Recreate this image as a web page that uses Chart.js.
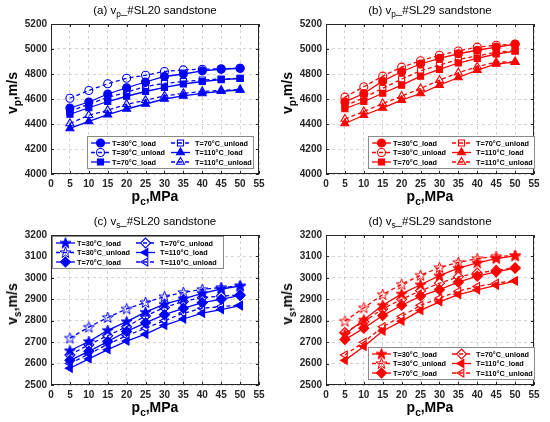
<!DOCTYPE html>
<html>
<head>
<meta charset="utf-8">
<script src="https://cdn.jsdelivr.net/npm/chart.js@4.4.1/dist/chart.umd.min.js"></script>
<style>
  body { margin: 0; background: #fff; width: 550px; height: 422px; overflow: hidden; font-family: 'Liberation Sans', Arial, sans-serif; color: #000; }
  .panel { position: absolute; width: 275px; height: 211px; }
  .panel canvas { position: absolute; left: 0; top: 0; }
  .title { position: absolute; left: 51px; width: 208px; top: 3px; text-align: center; font-size: 11.5px; line-height: 14px; white-space: nowrap; }
  .xlab { position: absolute; left: 51px; width: 208px; top: 188px; text-align: center; font-size: 14px; font-weight: bold; line-height: 16px; white-space: nowrap; }
  .ylab { position: absolute; left: 12px; top: 93px; transform: translate(-50%, -50%) rotate(-90deg); font-size: 14px; font-weight: bold; line-height: 16px; white-space: nowrap; }
  sub { font-size: 0.72em; vertical-align: -0.35em; line-height: 0; }
</style>
</head>
<body>
<div class="panel" style="left:0;top:0">
  <canvas id="chartA" width="275" height="211"></canvas>
  <div class="title">(a) v<sub>p</sub>_#SL20 sandstone</div>
  <div class="ylab">v<sub>p</sub>,m/s</div>
  <div class="xlab">p<sub>c</sub>,MPa</div>
</div>
<div class="panel" style="left:275px;top:0">
  <canvas id="chartB" width="275" height="211"></canvas>
  <div class="title">(b) v<sub>p</sub>_#SL29 sandstone</div>
  <div class="ylab">v<sub>p</sub>,m/s</div>
  <div class="xlab">p<sub>c</sub>,MPa</div>
</div>
<div class="panel" style="left:0;top:211px">
  <canvas id="chartC" width="275" height="211"></canvas>
  <div class="title">(c) v<sub>s</sub>_#SL20 sandstone</div>
  <div class="ylab">v<sub>s</sub>,m/s</div>
  <div class="xlab">p<sub>c</sub>,MPa</div>
</div>
<div class="panel" style="left:275px;top:211px">
  <canvas id="chartD" width="275" height="211"></canvas>
  <div class="title">(d) v<sub>s</sub>_#SL29 sandstone</div>
  <div class="ylab">v<sub>s</sub>,m/s</div>
  <div class="xlab">p<sub>c</sub>,MPa</div>
</div>
<script>
// confining pressure, MPa
const pressure = [5, 10, 15, 20, 25, 30, 35, 40, 45, 50];
const seriesLabels = ['T=30°C_load', 'T=30°C_unload', 'T=70°C_load', 'T=70°C_unload', 'T=110°C_load', 'T=110°C_unload'];

// (a) vp, #SL20
const vpSL20_30load    = [4528, 4576, 4640, 4690, 4736, 4780, 4800, 4825, 4838, 4846];
const vpSL20_30unload  = [4606, 4668, 4722, 4766, 4790, 4820, 4833, 4838, 4842, 4846];
const vpSL20_70load    = [4478, 4530, 4580, 4622, 4660, 4693, 4720, 4740, 4755, 4764];
const vpSL20_70unload  = [4500, 4560, 4612, 4655, 4700, 4725, 4740, 4752, 4760, 4765];
const vpSL20_110load   = [4365, 4421, 4475, 4520, 4560, 4600, 4625, 4645, 4662, 4672];
const vpSL20_110unload = [4405, 4470, 4510, 4558, 4590, 4625, 4645, 4660, 4670, 4675];

// (b) vp, #SL29
const vpSL29_30load    = [4577, 4644, 4743, 4818, 4880, 4925, 4962, 4990, 5015, 5038];
const vpSL29_30unload  = [4615, 4698, 4783, 4855, 4906, 4950, 4984, 5015, 5030, 5040];
const vpSL29_70load    = [4522, 4580, 4646, 4711, 4783, 4837, 4888, 4925, 4960, 4983];
const vpSL29_70unload  = [4545, 4610, 4686, 4759, 4826, 4871, 4917, 4944, 4975, 4986];
const vpSL29_110load   = [4404, 4470, 4529, 4591, 4644, 4711, 4772, 4831, 4880, 4895];
const vpSL29_110unload = [4440, 4500, 4564, 4623, 4684, 4751, 4810, 4858, 4895, 4898];

// (c) vs, #SL20
const vsSL20_30load    = [2660, 2703, 2755, 2796, 2840, 2877, 2902, 2928, 2948, 2962];
const vsSL20_30unload  = [2719, 2770, 2815, 2855, 2885, 2912, 2932, 2946, 2955, 2962];
const vsSL20_70load    = [2615, 2657, 2703, 2750, 2790, 2828, 2858, 2884, 2900, 2918];
const vsSL20_70unload  = [2640, 2688, 2730, 2772, 2822, 2862, 2890, 2908, 2915, 2920];
const vsSL20_110load   = [2578, 2622, 2665, 2705, 2737, 2778, 2808, 2835, 2852, 2870];
const vsSL20_110unload = [2600, 2645, 2690, 2730, 2765, 2800, 2835, 2858, 2866, 2872];

// (d) vs, #SL29
const vsSL29_30load    = [2737, 2804, 2872, 2925, 2968, 3010, 3045, 3070, 3090, 3103];
const vsSL29_30unload  = [2798, 2860, 2922, 2970, 3012, 3048, 3072, 3090, 3100, 3104];
const vsSL29_70load    = [2712, 2765, 2824, 2872, 2915, 2945, 2980, 3008, 3028, 3045];
const vsSL29_70unload  = [2745, 2795, 2855, 2900, 2940, 2975, 3005, 3022, 3035, 3047];
const vsSL29_110load   = [2615, 2680, 2752, 2798, 2848, 2888, 2922, 2944, 2965, 2985];
const vsSL29_110unload = [2640, 2700, 2772, 2820, 2872, 2905, 2938, 2960, 2975, 2987];

// axis ranges
const xMin = 0, xMax = 55, xStep = 5;
const vpMin = 4000, vpMax = 5200, vpStep = 200;
const vsMin = 2500, vsMax = 3200, vsStep = 100;

const FONT = "'Liberation Sans', Arial, sans-serif";
const AXIS_COLOR = '#262626';

// five point star marker, since chart.js 'star' is an asterisk
function starMarker(color, filled) {
    const c = document.createElement('canvas');
    c.width = 13; c.height = 13;
    const g = c.getContext('2d');
    g.beginPath();
    for (let i = 0; i < 10; i++) {
        const r = i % 2 ? 2.3 : 5.8;
        const a = -Math.PI / 2 + i * Math.PI / 5;
        g.lineTo(6.5 + r * Math.cos(a), 6.8 + r * Math.sin(a));
    }
    g.closePath();
    g.lineWidth = 1;
    if (filled) { g.fillStyle = color; g.fill(); }
    g.strokeStyle = color;
    g.stroke();
    return c;
}

function marks(kind, color) {
    if (kind === 'vp') {
        return [
            { style: 'circle', r: 4, rot: 0, filled: true },
            { style: 'circle', r: 4, rot: 0, filled: false },
            { style: 'rect', r: 4.3, rot: 0, filled: true },
            { style: 'rect', r: 4.3, rot: 0, filled: false },
            { style: 'triangle', r: 4.6, rot: 0, filled: true },
            { style: 'triangle', r: 4.6, rot: 0, filled: false }
        ];
    }
    return [
        { style: starMarker(color, true), r: 5, rot: 0, filled: true },
        { style: starMarker(color, false), r: 5, rot: 0, filled: false },
        { style: 'rectRot', r: 5, rot: 0, filled: true },
        { style: 'rectRot', r: 5, rot: 0, filled: false },
        { style: 'triangle', r: 4.6, rot: -90, filled: true },
        { style: 'triangle', r: 4.6, rot: -90, filled: false }
    ];
}

// box, inward ticks and an in-axes legend like the matlab figure
const framePlugin = {
    id: 'frame',
    beforeDatasetsDraw(chart) {
        const { ctx, chartArea: a, scales } = chart;
        ctx.save();
        ctx.strokeStyle = AXIS_COLOR;
        ctx.lineWidth = 1;
        ctx.beginPath();
        scales.x.ticks.forEach(t => {
            const px = Math.round(scales.x.getPixelForValue(t.value)) + 0.5;
            ctx.moveTo(px, a.bottom); ctx.lineTo(px, a.bottom - 3);
            ctx.moveTo(px, a.top); ctx.lineTo(px, a.top + 3);
        });
        scales.y.ticks.forEach(t => {
            const py = Math.round(scales.y.getPixelForValue(t.value)) + 0.5;
            ctx.moveTo(a.left, py); ctx.lineTo(a.left + 3, py);
            ctx.moveTo(a.right, py); ctx.lineTo(a.right - 3, py);
        });
        ctx.stroke();
        ctx.strokeRect(Math.round(a.left) + 0.5, Math.round(a.top) + 0.5, Math.round(a.width) - 1, Math.round(a.height) - 1);
        ctx.restore();
    },
    afterDatasetsDraw(chart, args, opts) {
        const { ctx } = chart;
        const b = opts.box;
        if (!b) return;
        ctx.save();
        ctx.fillStyle = '#fff';
        ctx.fillRect(b.x, b.y, b.w, b.h);
        ctx.strokeStyle = '#8a8a8a';
        ctx.lineWidth = 1;
        ctx.strokeRect(b.x + 0.5, b.y + 0.5, b.w, b.h);
        chart.data.datasets.forEach((ds, i) => {
            const col = Math.floor(i / 3), row = i % 3;
            const lx = b.x + (col ? 84 : 4);
            const cy = b.y + 7 + row * 9.5;
            ctx.strokeStyle = ds.borderColor;
            ctx.lineWidth = ds.borderWidth;
            ctx.setLineDash(ds.borderDash || []);
            ctx.beginPath();
            ctx.moveTo(lx, cy); ctx.lineTo(lx + 19, cy);
            ctx.stroke();
            ctx.setLineDash([]);
            ctx.fillStyle = ds.pointBackgroundColor;
            ctx.lineWidth = ds.pointBorderWidth;
            Chart.helpers.drawPoint(ctx, {
                pointStyle: ds.pointStyle, radius: ds.pointRadius,
                rotation: ds.pointRotation, borderWidth: ds.pointBorderWidth
            }, lx + 9.5, cy);
            ctx.fillStyle = '#000';
            ctx.font = 'bold 7.3px ' + FONT;
            ctx.textBaseline = 'middle';
            ctx.fillText(ds.label, b.x + (col ? 108 : 25), cy + 0.5);
        });
        ctx.restore();
    }
};

function makeChart(id, values, kind, color, yMin, yMax, yStep, box) {
    const mk = marks(kind, color);
    const datasets = values.map((vals, i) => ({
        label: seriesLabels[i],
        data: pressure.map((p, j) => ({ x: p, y: vals[j] })),
        borderColor: color,
        borderWidth: 1.3,
        borderDash: i % 2 ? [4, 3] : [],
        pointStyle: mk[i].style,
        pointRadius: mk[i].r,
        pointRotation: mk[i].rot,
        pointBorderColor: color,
        pointBorderWidth: 1.1,
        pointBackgroundColor: mk[i].filled ? color : 'rgba(0,0,0,0)',
        tension: 0,
        order: 5 - i
    }));
    const tickFont = { family: FONT, size: 10, weight: 'bold' };
    new Chart(document.getElementById(id).getContext('2d'), {
        type: 'line',
        data: { datasets },
        options: {
            responsive: false,
            animation: false,
            events: [],
            layout: { padding: { top: 24, right: 16, bottom: 22, left: 22 } },
            scales: {
                x: {
                    type: 'linear', min: xMin, max: xMax,
                    ticks: { stepSize: xStep, font: tickFont, color: AXIS_COLOR, padding: 4, maxRotation: 0, callback: v => String(v) },
                    grid: { color: 'rgba(0,0,0,0.16)', drawTicks: false },
                    border: { display: false, dash: [3, 3] },
                    afterFit(s) { s.height = 15; }
                },
                y: {
                    type: 'linear', min: yMin, max: yMax,
                    ticks: { stepSize: yStep, font: tickFont, color: AXIS_COLOR, padding: 4, callback: v => String(v) },
                    grid: { color: 'rgba(0,0,0,0.16)', drawTicks: false },
                    border: { display: false, dash: [3, 3] },
                    afterFit(s) { s.width = 29; }
                }
            },
            plugins: {
                legend: { display: false },
                tooltip: { enabled: false },
                frame: { box }
            }
        },
        plugins: [framePlugin]
    });
}

makeChart('chartA',
    [vpSL20_30load, vpSL20_30unload, vpSL20_70load, vpSL20_70unload, vpSL20_110load, vpSL20_110unload],
    'vp', '#0000ff', vpMin, vpMax, vpStep, { x: 87, y: 136, w: 166, h: 32 });
makeChart('chartB',
    [vpSL29_30load, vpSL29_30unload, vpSL29_70load, vpSL29_70unload, vpSL29_110load, vpSL29_110unload],
    'vp', '#ff0000', vpMin, vpMax, vpStep, { x: 93, y: 136, w: 166, h: 32 });
makeChart('chartC',
    [vsSL20_30load, vsSL20_30unload, vsSL20_70load, vsSL20_70unload, vsSL20_110load, vsSL20_110unload],
    'vs', '#0000ff', vsMin, vsMax, vsStep, { x: 52, y: 25, w: 171, h: 32 });
makeChart('chartD',
    [vsSL29_30load, vsSL29_30unload, vsSL29_70load, vsSL29_70unload, vsSL29_110load, vsSL29_110unload],
    'vs', '#ff0000', vsMin, vsMax, vsStep, { x: 93, y: 136, w: 166, h: 32 });
</script>
</body>
</html>
